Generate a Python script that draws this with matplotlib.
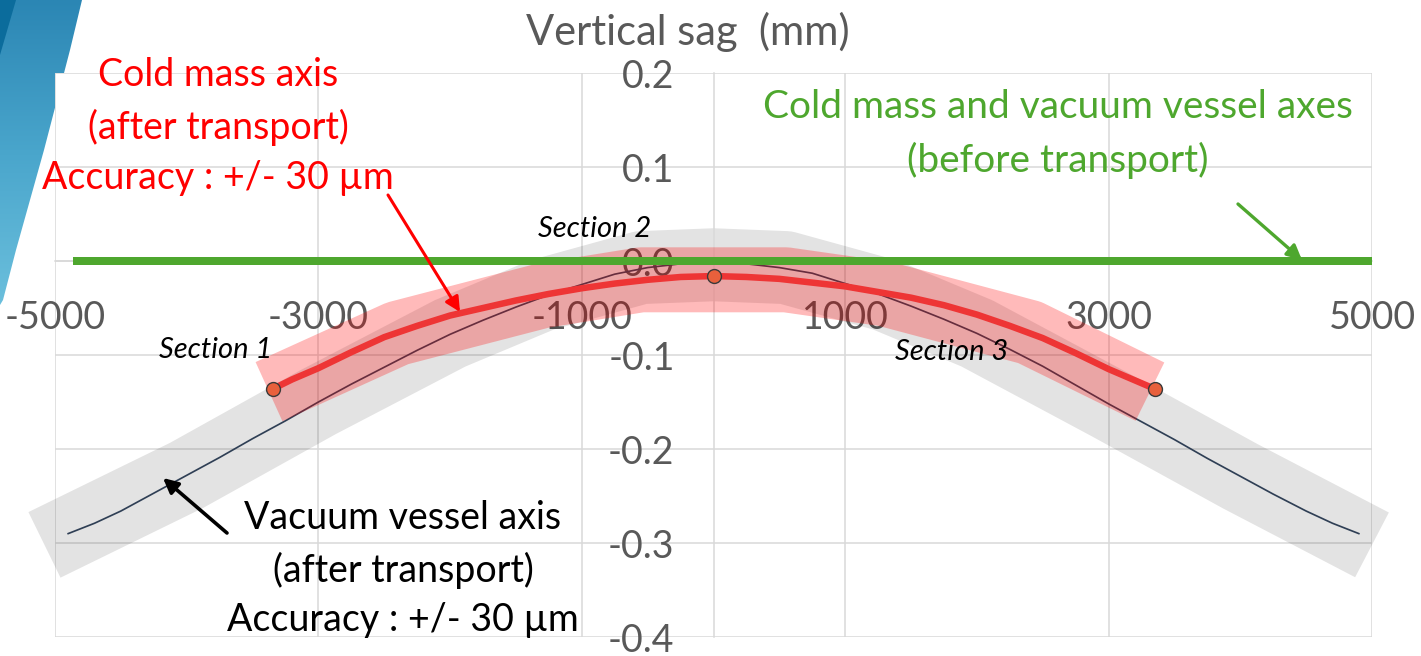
import matplotlib
matplotlib.use("Agg")
import matplotlib.pyplot as plt
import numpy as np
from matplotlib.patches import Polygon, FancyArrowPatch
from matplotlib.colors import LinearSegmentedColormap

W, H = 1421, 656

# vacuum vessel axis after transport (x in mm, sag in mm)
vessel_x = [-4900, -4700, -4500, -4250, -4000, -3750, -3500, -3250, -3000, -2750, -2500, -2250,
            -2000, -1750, -1500, -1250, -1000, -750, -500, -250, 0,
            250, 500, 750, 1000, 1250, 1500, 1750, 2000, 2250, 2500, 2750,
            3000, 3250, 3500, 3750, 4000, 4250, 4500, 4700, 4900]
vessel_y = [-0.290, -0.279, -0.266, -0.247, -0.228, -0.209, -0.189, -0.170, -0.150, -0.131, -0.113, -0.095,
            -0.078, -0.063, -0.049, -0.036, -0.025, -0.014, -0.007, -0.003, -0.001,
            -0.003, -0.007, -0.013, -0.024, -0.035, -0.048, -0.062, -0.077, -0.094, -0.112, -0.132,
            -0.152, -0.171, -0.190, -0.210, -0.229, -0.248, -0.266, -0.279, -0.290]
# +/- 30 um envelope of the vessel axis
vessel_band_x = [-5080, -4000, -3000, -2000, -1300, -550, 0, 550, 1300, 2000, 3000, 4000, 5000]
vessel_band_y = [-0.302, -0.228, -0.150, -0.077, -0.036, -0.007, -0.004, -0.007, -0.036, -0.077, -0.152, -0.229, -0.302]

# cold mass axis after transport
cold_x = [-3345, -3200, -3000, -2750, -2500, -2250, -2000, -1750, -1500, -1250, -1000, -750, -500, -250, 0,
          250, 500, 750, 1000, 1250, 1500, 1750, 2000, 2250, 2500, 2750, 3000, 3200, 3350]
cold_y = [-0.136, -0.126, -0.114, -0.097, -0.081, -0.069, -0.058, -0.050, -0.042, -0.035, -0.029, -0.024, -0.020, -0.017, -0.016,
          -0.017, -0.019, -0.023, -0.027, -0.033, -0.039, -0.047, -0.057, -0.069, -0.082, -0.098, -0.115, -0.127, -0.136]
cold_band_x = [-3375, -2400, -1300, -550, 550, 1300, 2400, 3314]
cold_band_y = [-0.139, -0.077, -0.037, -0.020, -0.020, -0.035, -0.076, -0.139]

# both axes before transport
before_x = [-4860, 5000]
before_y = [0.0, 0.0]

section_x = [-3345, 0, 3352]
section_y = [-0.136, -0.016, -0.136]
section_names = ["Section 1", "Section 2", "Section 3"]

x_ticks = [-5000, -3000, -1000, 1000, 3000, 5000]
x_tick_labels = ["-5000", "-3000", "-1000", "1000", "3000", "5000"]
y_ticks = [-0.4, -0.3, -0.2, -0.1, 0.0, 0.1, 0.2]
y_tick_labels = ["-0.4", "-0.3", "-0.2", "-0.1", "0.0", "0.1", "0.2"]

GRID = "#D9D9D9"
TICK = "#595959"
RED = "#FF0000"
GREEN = "#4EA72E"

plt.rcParams["font.family"] = ["Lato", "DejaVu Sans"]
plt.rcParams["axes.unicode_minus"] = False


def fp(x, y):
    """pixel position in the 1421x656 frame -> figure fraction"""
    return (x / W, 1 - y / H)


def px_lw(px):
    return px * 72 / 100


fig = plt.figure(figsize=(W / 100, H / 100), dpi=100)

# slide decoration at the top-left corner
deco = fig.add_axes([0, 0, 1, 1], zorder=-1)
deco.set_xlim(0, W)
deco.set_ylim(H, 0)
deco.axis("off")
band = Polygon([(15, 0), (82, 0), (70, 50), (57, 100), (44, 150), (30, 200), (16, 250), (3, 300), (0, 305), (0, 50)],
               closed=True, facecolor="none", edgecolor="none")
deco.add_patch(band)
grad = np.linspace(0, 1, 256).reshape(-1, 1)
img = deco.imshow(grad, extent=(0, 90, 310, 0),
                  cmap=LinearSegmentedColormap.from_list("slide", ["#2B86B4", "#4AA6CC", "#6CC0DD"]),
                  aspect="auto", interpolation="bilinear")
img.set_clip_path(band)
deco.add_patch(Polygon([(0, 0), (16, 0), (0, 55)], closed=True, facecolor="#0B6C9C", edgecolor="none"))

ax = fig.add_axes([55 / W, 1 - 637 / H, (1372 - 55) / W, (637 - 73) / H])
ax.set_xlim(-5000, 5000)
ax.set_ylim(-0.4, 0.2)

ax.plot(vessel_band_x, vessel_band_y, color="black", alpha=0.11, lw=px_lw(73),
        solid_capstyle="butt", solid_joinstyle="round", zorder=2, clip_on=False)
ax.plot(vessel_x, vessel_y, color="#2F3F55", lw=px_lw(1.7), zorder=3)
ax.plot(cold_band_x, cold_band_y, color="red", alpha=0.27, lw=px_lw(65),
        solid_capstyle="butt", solid_joinstyle="round", zorder=4, clip_on=False)
ax.plot(cold_x, cold_y, color="#EE3535", lw=px_lw(6.5), solid_capstyle="round", zorder=5)
ax.plot(before_x, before_y, color=GREEN, lw=px_lw(8), solid_capstyle="butt", zorder=6)
ax.plot(section_x, section_y, linestyle="none", marker="o", markersize=10,
        markerfacecolor="#E8603C", markeredgecolor="#3A3A3A", markeredgewidth=1.0, zorder=7)

ax.set_xticks(x_ticks)
ax.set_xticklabels(x_tick_labels)
ax.set_yticks(y_ticks)
ax.set_yticklabels(y_tick_labels)
ax.grid(True, color=GRID, lw=1.1)
ax.tick_params(length=0, labelsize=27, labelcolor=TICK)
ax.tick_params(axis="x", pad=28)
ax.tick_params(axis="y", pad=28)
for side in ("top", "right"):
    ax.spines[side].set_visible(False)
ax.spines["left"].set_position(("data", 0))
ax.spines["bottom"].set_position(("data", 0))
for side in ("left", "bottom"):
    ax.spines[side].set_color(GRID)
    ax.spines[side].set_linewidth(1.1)

fig.text(*fp(688, 32), "Vertical sag  (mm)", ha="center", va="center", fontsize=30, color=TICK)

# section labels
for name, (x, y) in zip(section_names, [(216, 350), (595, 229), (952, 352)]):
    fig.text(*fp(x, y), name, ha="center", va="center", fontsize=21, style="italic", color="black")

# annotations
for line, y in zip(["Cold mass axis", "(after transport)", "Accuracy : +/- 30 µm"], [75, 127, 178]):
    fig.text(*fp(218, y), line, ha="center", va="center", fontsize=27, color=RED)
for line, y in zip(["Cold mass and vacuum vessel axes", "(before transport)"], [107, 160]):
    fig.text(*fp(1058, y), line, ha="center", va="center", fontsize=28, color=GREEN)
for line, y in zip(["Vacuum vessel axis", "(after transport)", "Accuracy : +/- 30 µm"], [518, 570, 620]):
    fig.text(*fp(403, y), line, ha="center", va="center", fontsize=27, color="black")

arrow = dict(arrowstyle="-|>", mutation_scale=22, shrinkA=0, shrinkB=0, transform=fig.transFigure)
fig.add_artist(FancyArrowPatch(fp(388, 195), fp(460, 312), color=RED, lw=2.2, **arrow))
fig.add_artist(FancyArrowPatch(fp(1238, 204), fp(1302, 260), color=GREEN, lw=2.4, **arrow))
fig.add_artist(FancyArrowPatch(fp(227, 533), fp(163, 478), color="black", lw=2.6, **arrow))

fig.savefig("out.png", dpi=100, facecolor="white")
